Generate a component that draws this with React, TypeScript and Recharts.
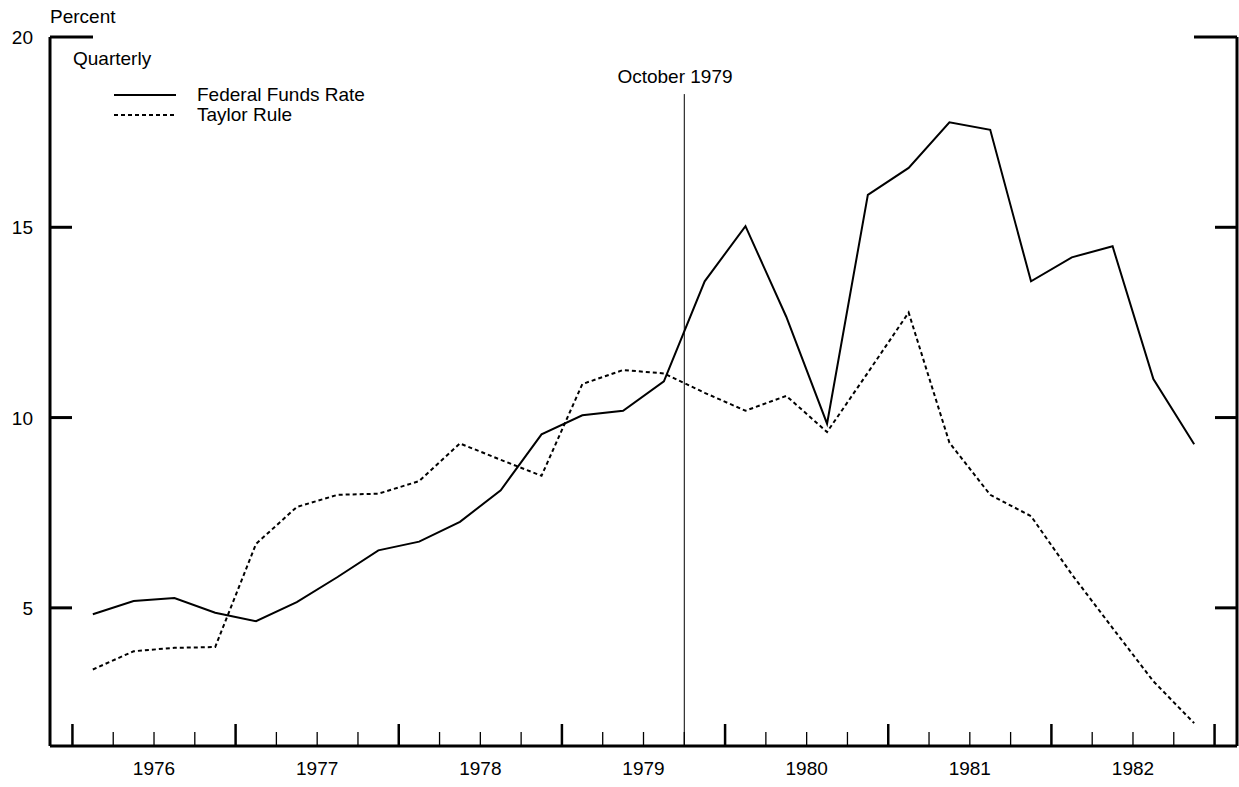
import { LineChart, Line, XAxis, YAxis, ReferenceLine, Legend } from "recharts";

const quarters = [
  "1976Q1", "1976Q2", "1976Q3", "1976Q4",
  "1977Q1", "1977Q2", "1977Q3", "1977Q4",
  "1978Q1", "1978Q2", "1978Q3", "1978Q4",
  "1979Q1", "1979Q2", "1979Q3", "1979Q4",
  "1980Q1", "1980Q2", "1980Q3", "1980Q4",
  "1981Q1", "1981Q2", "1981Q3", "1981Q4",
  "1982Q1", "1982Q2", "1982Q3", "1982Q4",
];

const fedFunds = [
  4.83, 5.18, 5.26, 4.87, 4.65, 5.15, 5.81, 6.51, 6.74, 7.26, 8.09, 9.56, 10.06, 10.18,
  10.95, 13.58, 15.03, 12.65, 9.84, 15.85, 16.56, 17.76, 17.56, 13.58, 14.21, 14.5, 11.01, 9.3,
];

const taylorRule = [
  3.38, 3.86, 3.95, 3.97, 6.68, 7.65, 7.97, 8.0, 8.33, 9.32, 8.89, 8.47, 10.88, 11.25,
  11.16, 10.65, 10.18, 10.57, 9.62, 11.18, 12.76, 9.34, 7.97, 7.41, 5.88, 4.47, 3.07, 1.97,
];

const years = ["1976", "1977", "1978", "1979", "1980", "1981", "1982"];
const yTicks = [5, 10, 15, 20];
const Y_MIN = 1.37;
const Y_MAX = 20;
// October 1979 = start of 1979Q4 (quarter index 15)
const octoberQuarter = 15;

const data = quarters.map((q, i) => ({
  q,
  t: i + 0.5,
  ffr: fedFunds[i],
  taylor: taylorRule[i],
}));

const quarterTicks = Array.from({ length: quarters.length + 1 }, (_, i) => i);

const FONT = "'Liberation Sans', Arial, Helvetica, sans-serif";

const LeftTick = (props: any) => {
  const { x, y, payload } = props;
  const len = payload.value === Y_MAX ? 43 : 22;
  return (
    <g>
      <line x1={x} x2={x + len} y1={y} y2={y} stroke="#000" strokeWidth={3} />
      <text x={x - 17} y={y} dy={7} textAnchor="end" fontSize={19} fill="#000">
        {payload.value}
      </text>
    </g>
  );
};

const RightTick = (props: any) => {
  const { x, y, payload } = props;
  const len = payload.value === Y_MAX ? 43 : 22;
  return <line x1={x - len} x2={x} y1={y} y2={y} stroke="#000" strokeWidth={3} />;
};

const BottomTick = (props: any) => {
  const { x, y, payload } = props;
  const v = payload.value as number;
  const major = v % 4 === 0;
  const year = v % 4 === 2 ? years[Math.floor(v / 4)] : null;
  return (
    <g>
      <line
        x1={x}
        x2={x}
        y1={y - (major ? 22 : 14)}
        y2={y}
        stroke="#000"
        strokeWidth={major ? 2.5 : 1.3}
      />
      {year && (
        <text x={x} y={y + 29} textAnchor="middle" fontSize={19} fill="#000">
          {year}
        </text>
      )}
    </g>
  );
};

const renderLegend = (props: any) => {
  const { payload } = props;
  return (
    <div style={{ fontFamily: FONT, fontSize: 19, color: "#000" }}>
      {payload.map((entry: any) => (
        <div
          key={entry.value}
          style={{ display: "flex", alignItems: "center", height: 20, lineHeight: "20px" }}
        >
          <svg width={62} height={4} style={{ marginRight: 21 }}>
            <line
              x1={0}
              x2={62}
              y1={2}
              y2={2}
              stroke="#000"
              strokeWidth={2}
              strokeDasharray={entry.payload.strokeDasharray}
            />
          </svg>
          <span>{entry.value}</span>
        </div>
      ))}
    </div>
  );
};

const labelStyle = {
  position: "absolute" as const,
  fontFamily: FONT,
  fontSize: 19,
  lineHeight: 1,
  color: "#000",
  whiteSpace: "nowrap" as const,
};

const App = () => {
  return (
    <div style={{ position: "relative", width: 1239, height: 787, fontFamily: FONT, background: "#fff" }}>
      <style>{"body{margin:0;overflow:hidden}"}</style>
      <LineChart
        width={1239}
        height={787}
        data={data}
        margin={{ top: 37, right: 0, bottom: 0, left: 0 }}
      >
        <XAxis
          dataKey="t"
          type="number"
          domain={[-0.55, 28.55]}
          allowDataOverflow
          ticks={quarterTicks}
          interval={0}
          height={41}
          tickSize={0}
          tickMargin={0}
          tickLine={false}
          axisLine={{ stroke: "#000", strokeWidth: 3 }}
          tick={<BottomTick />}
        />
        <YAxis
          yAxisId="left"
          domain={[Y_MIN, Y_MAX]}
          allowDataOverflow
          ticks={yTicks}
          interval={0}
          width={50}
          tickSize={0}
          tickMargin={0}
          tickLine={false}
          axisLine={{ stroke: "#000", strokeWidth: 3 }}
          tick={<LeftTick />}
        />
        <YAxis
          yAxisId="right"
          orientation="right"
          domain={[Y_MIN, Y_MAX]}
          allowDataOverflow
          ticks={yTicks}
          interval={0}
          width={2}
          tickSize={0}
          tickMargin={0}
          tickLine={false}
          axisLine={{ stroke: "#000", strokeWidth: 3 }}
          tick={<RightTick />}
        />
        <ReferenceLine
          yAxisId="left"
          segment={[
            { x: octoberQuarter, y: Y_MIN },
            { x: octoberQuarter, y: 18.5 },
          ]}
          stroke="#000"
          strokeWidth={1}
        />
        <Legend
          layout="vertical"
          align="center"
          verticalAlign="middle"
          content={renderLegend}
          wrapperStyle={{ left: 114, top: 85, bottom: "auto", width: "auto" }}
        />
        <Line
          yAxisId="left"
          type="linear"
          dataKey="ffr"
          name="Federal Funds Rate"
          stroke="#000"
          strokeWidth={2}
          dot={false}
          activeDot={false}
          isAnimationActive={false}
        />
        <Line
          yAxisId="left"
          type="linear"
          dataKey="taylor"
          name="Taylor Rule"
          stroke="#000"
          strokeWidth={2}
          strokeDasharray="4 3"
          dot={false}
          activeDot={false}
          isAnimationActive={false}
        />
      </LineChart>
      <div style={{ ...labelStyle, left: 50, top: 7 }}>Percent</div>
      <div style={{ ...labelStyle, left: 73, top: 49 }}>Quarterly</div>
      <div style={{ ...labelStyle, left: 675, top: 67, transform: "translateX(-50%)" }}>October 1979</div>
    </div>
  );
};

export default App;
